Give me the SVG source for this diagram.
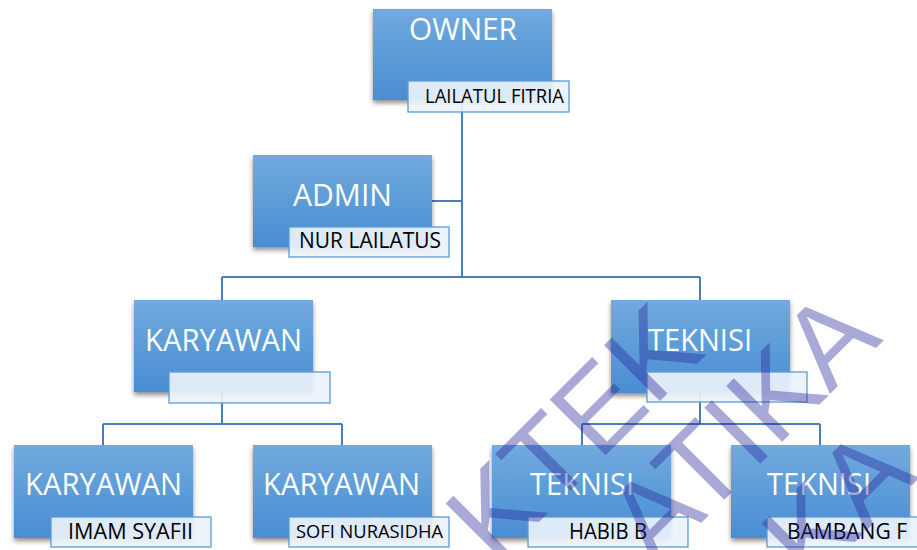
<svg xmlns="http://www.w3.org/2000/svg" width="917" height="550" viewBox="0 0 917 550">
<defs>
<linearGradient id="boxGrad" x1="0" y1="0" x2="0" y2="1">
<stop offset="0" stop-color="#73a9de"/>
<stop offset="0.5" stop-color="#5c9cd8"/>
<stop offset="1" stop-color="#4a8dd3"/>
</linearGradient>
<filter id="shadow" x="-10%" y="-10%" width="125%" height="130%">
<feDropShadow dx="0" dy="3" stdDeviation="2.5" flood-color="#000" flood-opacity="0.45"/>
</filter>
</defs>
<style>
.box{fill:url(#boxGrad);filter:url(#shadow);}
.lbl{fill:#eaf2fb;fill-opacity:0.92;stroke:#5b9bd5;stroke-width:1.3;}
.title{font-family:"Open Sans","Noto Sans",sans-serif;font-size:30.5px;fill:#ffffff;}
.name{font-family:"Open Sans","Noto Sans",sans-serif;fill:#000000;}
.conn{fill:none;stroke:#4a7ebb;stroke-width:2;}
.wm{font-family:"Liberation Sans",Arial,sans-serif;font-size:115px;fill:#28289a;fill-opacity:0.4;}
</style>
<rect width="917" height="550" fill="#ffffff"/>
<g id="connectors">
<path class="conn" d="M462 100 V277"/>
<path class="conn" d="M432 201 H462"/>
<path class="conn" d="M222 277 H700 M222 277 V300 M700 277 V300"/>
<path class="conn" d="M222 392 V424 M103 424 H342 M103 424 V445 M342 424 V445"/>
<path class="conn" d="M700 393 V424 M582 424 H820 M582 424 V445 M820 424 V445"/>
</g>
<g id="owner">
<rect class="box" x="373" y="9" width="179" height="91"/>
<text class="title" x="409" y="40" textLength="108" lengthAdjust="spacingAndGlyphs">OWNER</text>
<rect class="lbl" x="408" y="81" width="161" height="31"/>
<text class="name" x="425" y="103" font-size="19.5" textLength="139" lengthAdjust="spacingAndGlyphs">LAILATUL FITRIA</text>
</g>
<g id="admin">
<rect class="box" x="253" y="155" width="179" height="92"/>
<text class="title" x="293" y="206" textLength="99" lengthAdjust="spacingAndGlyphs">ADMIN</text>
<rect class="lbl" x="289" y="227" width="160" height="30"/>
<text class="name" x="299" y="248" font-size="21" textLength="142" lengthAdjust="spacingAndGlyphs">NUR LAILATUS</text>
</g>
<g id="karyawan-mid">
<rect class="box" x="134" y="300" width="179" height="92"/>
<text class="title" x="145" y="351" textLength="157" lengthAdjust="spacingAndGlyphs">KARYAWAN</text>
<rect class="lbl" x="169" y="372" width="161" height="31"/>
</g>
<g id="teknisi-mid">
<rect class="box" x="611" y="300" width="179" height="93"/>
<text class="title" x="648" y="351" textLength="104" lengthAdjust="spacingAndGlyphs">TEKNISI</text>
<rect class="lbl" x="647" y="372" width="160" height="30"/>
</g>
<g id="karyawan-1">
<rect class="box" x="14" y="445" width="179" height="93"/>
<text class="title" x="25" y="495" textLength="157" lengthAdjust="spacingAndGlyphs">KARYAWAN</text>
<rect class="lbl" x="51" y="517" width="160" height="30"/>
<text class="name" x="68" y="539" font-size="22" textLength="125" lengthAdjust="spacingAndGlyphs">IMAM SYAFII</text>
</g>
<g id="karyawan-2">
<rect class="box" x="253" y="445" width="179" height="93"/>
<text class="title" x="263" y="495" textLength="157" lengthAdjust="spacingAndGlyphs">KARYAWAN</text>
<rect class="lbl" x="289" y="517" width="160" height="30"/>
<text class="name" x="296" y="538" font-size="18" textLength="147" lengthAdjust="spacingAndGlyphs">SOFI NURASIDHA</text>
</g>
<g id="teknisi-1">
<rect class="box" x="492" y="445" width="179" height="93"/>
<text class="title" x="530" y="495" textLength="104" lengthAdjust="spacingAndGlyphs">TEKNISI</text>
<rect class="lbl" x="528" y="517" width="160" height="30"/>
<text class="name" x="569" y="539" font-size="21" textLength="78" lengthAdjust="spacingAndGlyphs">HABIB B</text>
</g>
<g id="teknisi-2">
<rect class="box" x="731" y="445" width="179" height="93"/>
<text class="title" x="767" y="495" textLength="104" lengthAdjust="spacingAndGlyphs">TEKNISI</text>
<rect class="lbl" x="767" y="517" width="160" height="30"/>
<text class="name" x="787" y="539" font-size="21.5" textLength="120" lengthAdjust="spacingAndGlyphs">BAMBANG F</text>
</g>
<g id="watermark">
<text class="wm" transform="translate(495 566) rotate(-45)">KTEK</text>
<text class="wm" transform="translate(655 569) rotate(-45)">ATIKA</text>
<text class="wm" transform="translate(811 586) rotate(-45)">KA</text>
</g>
</svg>
